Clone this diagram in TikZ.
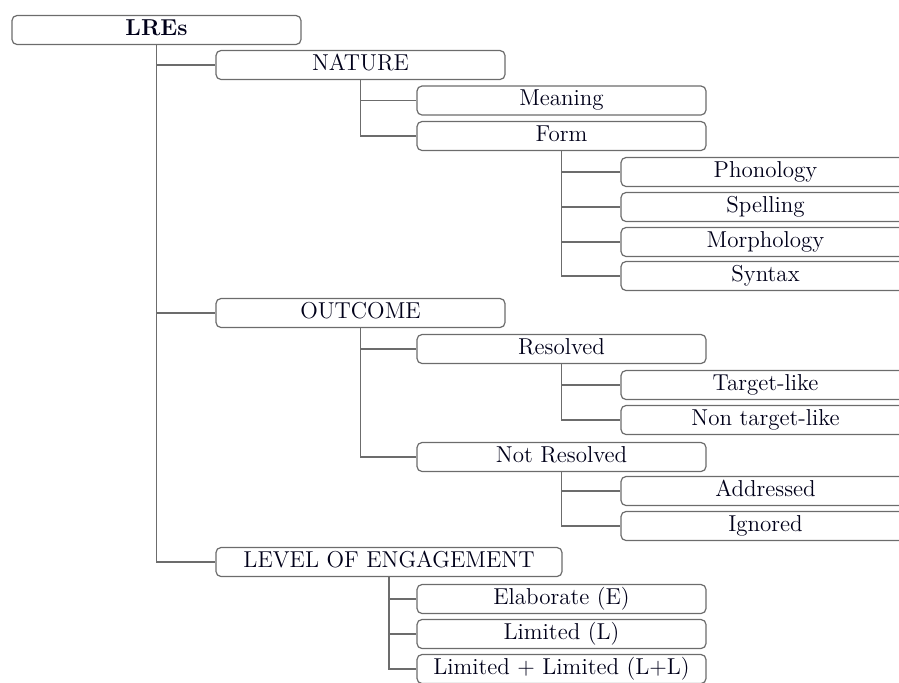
\documentclass[tikz,border=0pt]{standalone}
\usepackage{tikz}

\begin{document}
\begin{tikzpicture}[x=0.5pt, y=-0.5pt, every node/.style={draw=gray!85!black, rounded corners=2.5pt, line width=0.6pt, minimum width=144.5pt, minimum height=14.5pt, inner sep=0pt, text height=8pt, text depth=2.6pt, text=black!90!blue, font=\fontsize{11.5}{13}\selectfont}]
	\clip (0,0) rectangle (899,682);
	
	\node (lre) at (156.5, 30) {\bfseries LREs};
	
	\node (nat) at (360.5, 65) {NATURE};
	\node (mea) at (561.5, 100.5) {Meaning};
	\node (frm) at (561.5, 136) {Form};
	\node (pho) at (765.5, 172) {Phonology};
	\node (spe) at (765.5, 207) {Spelling};
	\node (mor) at (765.5, 242) {Morphology};
	\node (syn) at (765.5, 276) {Syntax};
	
	\node (out) at (360.5, 313) {OUTCOME};
	\node (res) at (561.5, 349) {Resolved};
	\node (tar) at (765.5, 385) {Target-like};
	\node (non) at (765.5, 420) {Non target-like};
	\node (nres) at (561.5, 457) {Not Resolved};
	\node (add) at (765.5, 491) {Addressed};
	\node (ign) at (765.5, 526) {Ignored};
	
	\node[minimum width=173pt] (lev) at (389, 562) {LEVEL OF ENGAGEMENT};
	\node (ela) at (561.5, 599) {Elaborate (E)};
	\node (lim) at (561.5, 634) {Limited (L)};
	\node (ll) at (561.5, 669) {Limited + Limited (L+L)};
	
	\draw[gray!85!black, line width=0.6pt] (lre) |- (nat);
	\draw[gray!85!black, line width=0.6pt] (lre) |- (out);
	\draw[gray!85!black, line width=0.6pt] (lre) |- (lev);
	\draw[gray!85!black, line width=0.6pt] (nat) |- (mea);
	\draw[gray!85!black, line width=0.6pt] (nat) |- (frm);
	\draw[gray!85!black, line width=0.6pt] (frm) |- (pho);
	\draw[gray!85!black, line width=0.6pt] (frm) |- (spe);
	\draw[gray!85!black, line width=0.6pt] (frm) |- (mor);
	\draw[gray!85!black, line width=0.6pt] (frm) |- (syn);
	\draw[gray!85!black, line width=0.6pt] (out) |- (res);
	\draw[gray!85!black, line width=0.6pt] (out) |- (nres);
	\draw[gray!85!black, line width=0.6pt] (res) |- (tar);
	\draw[gray!85!black, line width=0.6pt] (res) |- (non);
	\draw[gray!85!black, line width=0.6pt] (nres) |- (add);
	\draw[gray!85!black, line width=0.6pt] (nres) |- (ign);
	\draw[gray!85!black, line width=0.6pt] (lev) |- (ela);
	\draw[gray!85!black, line width=0.6pt] (lev) |- (lim);
	\draw[gray!85!black, line width=0.6pt] (lev) |- (ll);
\end{tikzpicture}
\end{document}
